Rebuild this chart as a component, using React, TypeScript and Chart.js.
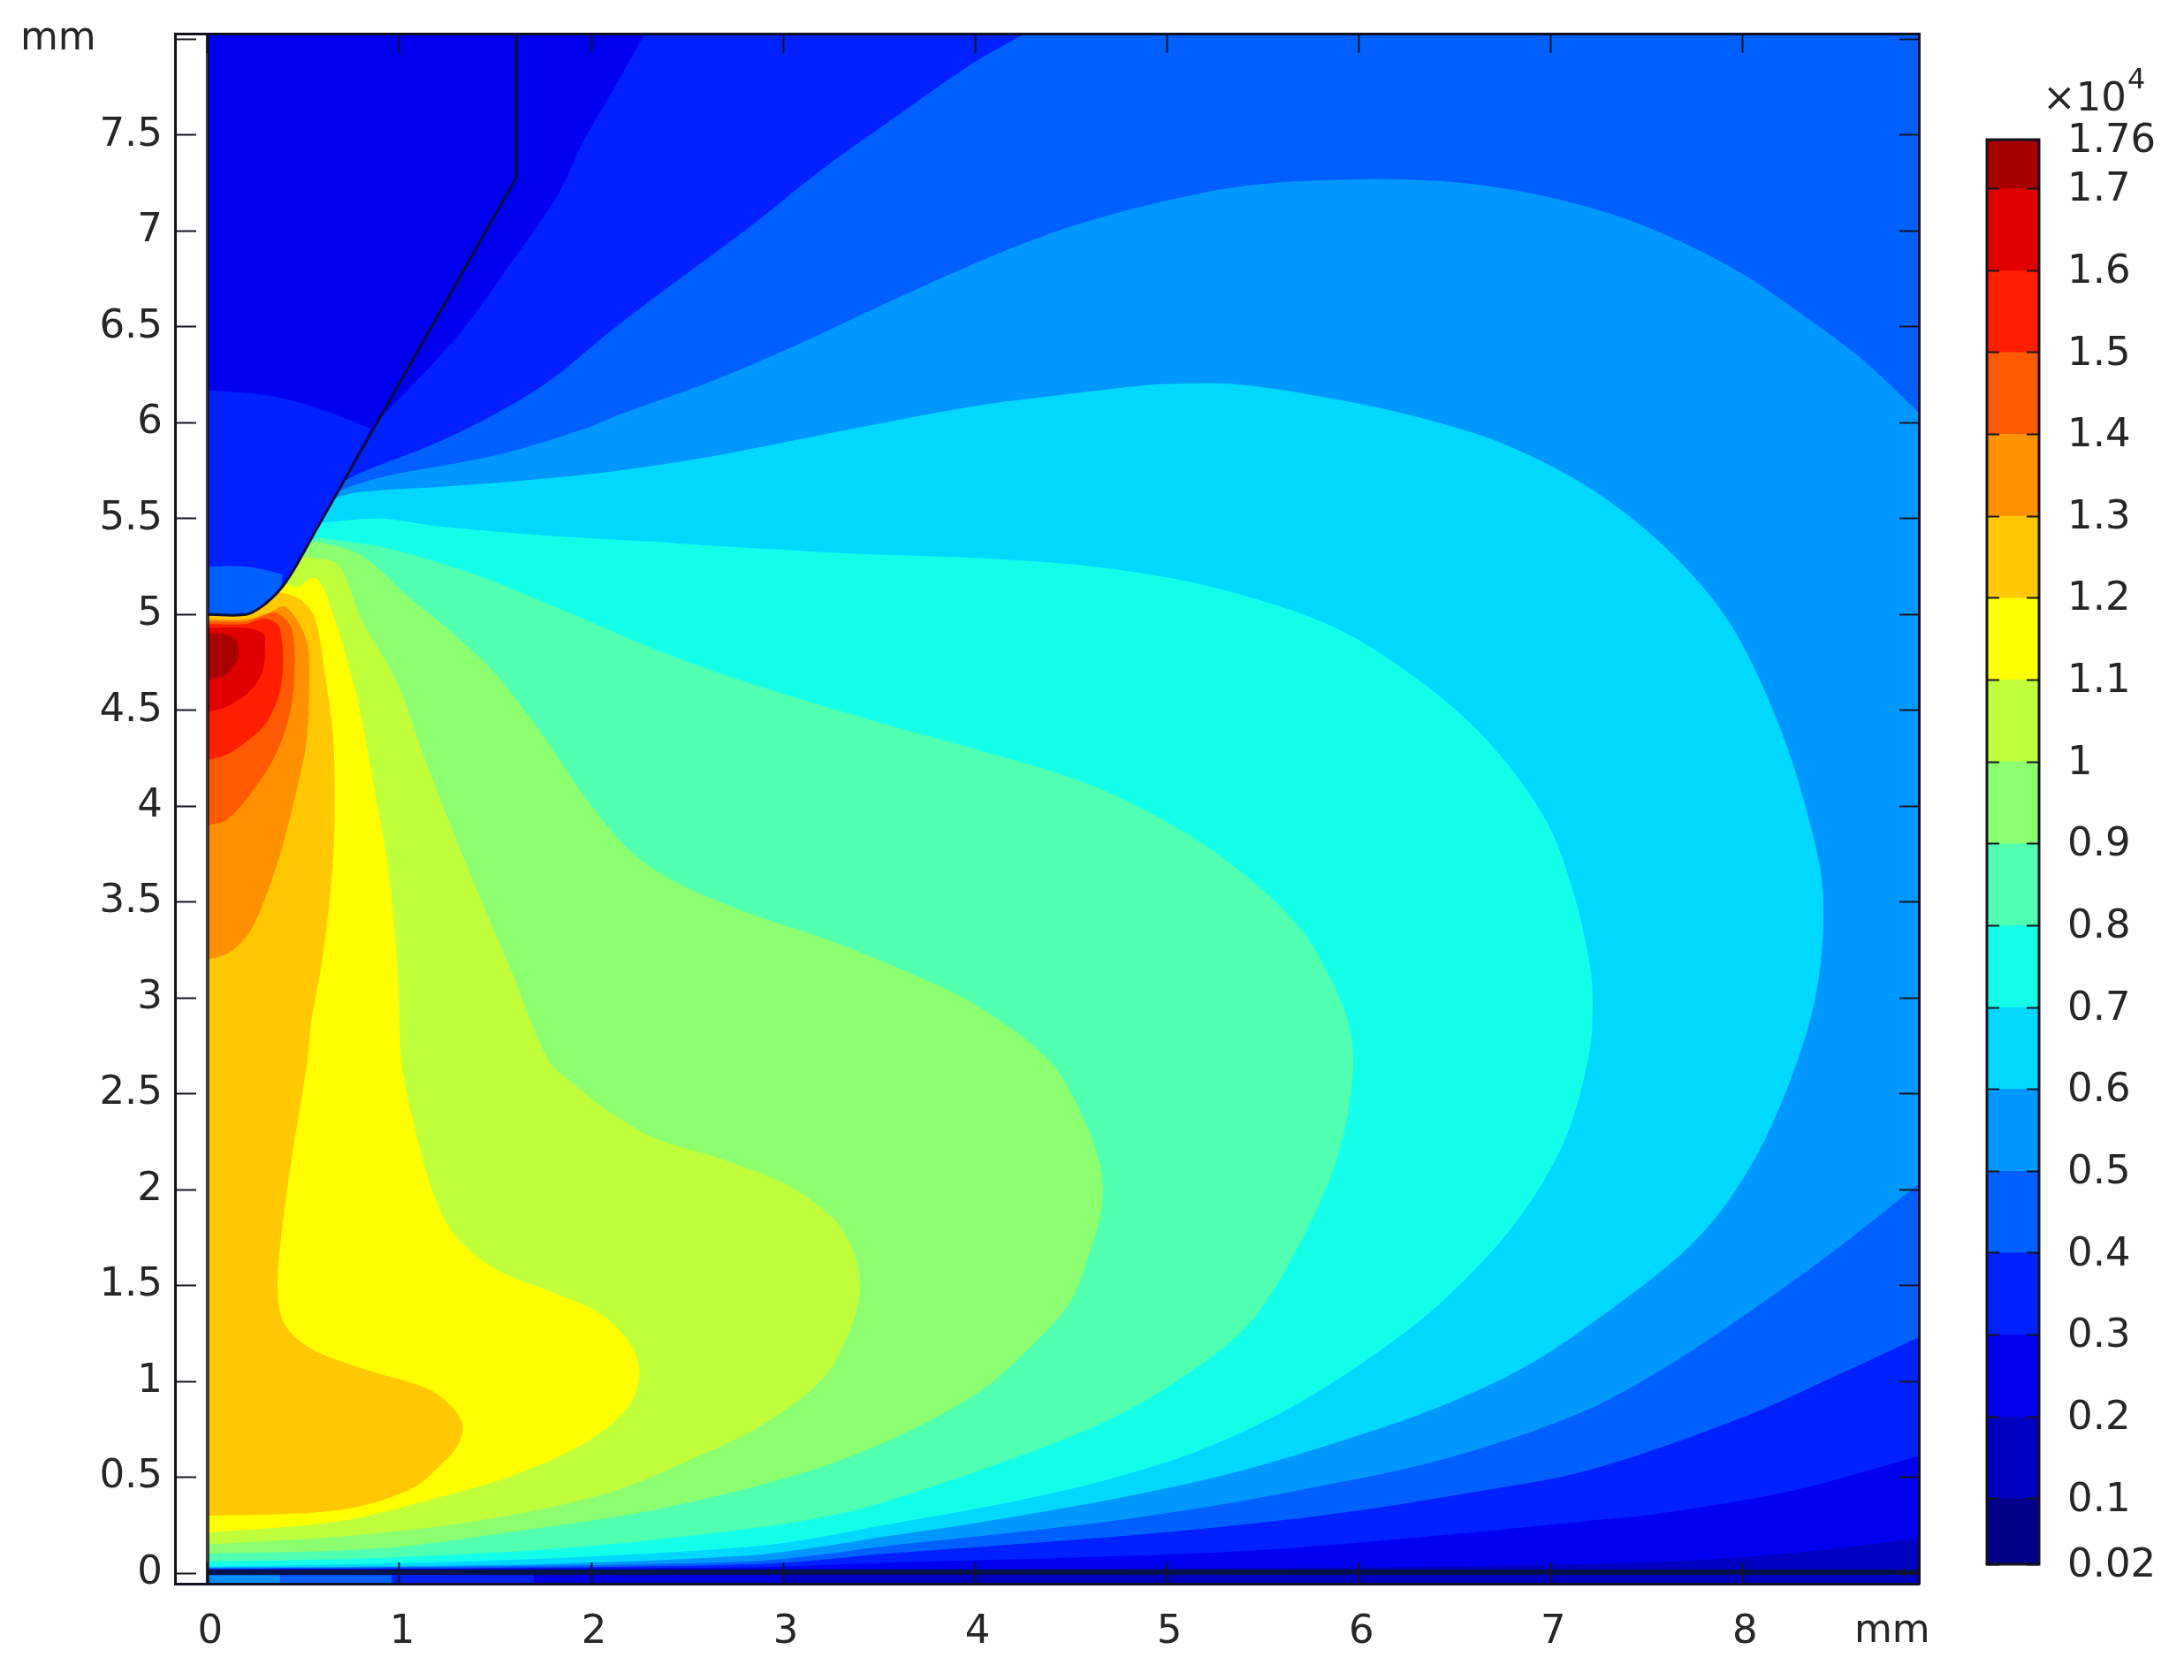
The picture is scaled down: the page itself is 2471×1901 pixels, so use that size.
import React, { useEffect, useRef } from "react";
import { Chart, registerables } from "chart.js";
Chart.register(...registerables);

type P = [number, number];

const xTicks = [0, 1, 2, 3, 4, 5, 6, 7, 8];
const yTicks = [0, 0.5, 1, 1.5, 2, 2.5, 3, 3.5, 4, 4.5, 5, 5.5, 6, 6.5, 7, 7.5, 8];
const yLabels = ["0", "0.5", "1", "1.5", "2", "2.5", "3", "3.5", "4", "4.5", "5", "5.5", "6", "6.5", "7", "7.5", ""];
const barEdges = [0.02, 0.1, 0.2, 0.3, 0.4, 0.5, 0.6, 0.7, 0.8, 0.9, 1, 1.1, 1.2, 1.3, 1.4, 1.5, 1.6, 1.7, 1.76];
const barColors = ["#000088", "#0000c0", "#0000f0", "#0020ff", "#0060ff", "#0098ff", "#00d8ff", "#14ffea", "#50ffb0", "#8cff70", "#c0ff3c", "#ffff00", "#ffc800", "#ff9000", "#ff5a00", "#ff1e00", "#e00000", "#a80000"];

const X0 = -0.17, X1 = 8.92, Y0 = -0.055, Y1 = 8.03;

const level02: P[] = [[0,.02],[0,.02],[3,.022],[5,.025],[6.5,.035],[7.62,.06],[8.26,.105],[8.92,.18],[8.92,.18],[8.92,8.03],[8.92,8.03],[0,8.03],[0,8.03]];
const level03: P[] = [[.87,5.99],[1.31,6.46],[1.6,6.86],[1.82,7.18],[1.96,7.47],[2.11,7.73],[2.28,8.03],[2.28,8.03],[8.92,8.03],[8.92,8.03],[8.92,.61],[8.92,.61],[8.26,.43],[7.56,.31],[7.21,.275],[6.35,.19],[5.41,.115],[4.47,.08],[3.525,.055],[3.15,.04],[2.8,.03],[1.86,.025],[0,.02],[0,.02],[0,5.3],[0,5.3]];
const level04: P[] = [[.72,5.7],[.8,5.74],[1.27,5.93],[1.74,6.19],[2.14,6.51],[2.5,6.78],[2.85,7.04],[3.2,7.32],[3.55,7.57],[3.98,7.87],[4.26,8.03],[4.26,8.03],[8.92,8.03],[8.92,8.03],[8.92,1.23],[8.92,1.23],[8.49,1.03],[8.02,.82],[7.21,.54],[6.58,.42],[5.88,.31],[5.17,.23],[4.47,.17],[3.525,.1],[3.15,.065],[2.8,.045],[1.86,.03],[0,.022],[0,.022],[0,5.3],[0,5.3]];
const level05: P[] = [[.72,5.66],[.92,5.72],[1.5,5.83],[1.97,5.97],[2.14,6.04],[2.61,6.21],[3.08,6.41],[3.55,6.63],[4.02,6.84],[4.49,7.02],[4.96,7.15],[5.44,7.24],[6.03,7.27],[6.55,7.25],[7.02,7.17],[7.48,7.03],[7.96,6.8],[8.43,6.48],[8.66,6.3],[8.92,6.05],[8.92,6.05],[8.92,2.03],[8.92,2.03],[8.45,1.66],[7.93,1.29],[7.56,1.05],[7.21,.86],[6.82,.71],[6.35,.57],[5.88,.47],[5.41,.38],[4.7,.27],[4,.19],[3.525,.14],[3.15,.09],[2.8,.06],[1.86,.04],[0,.025],[0,.025],[0,5.3],[0,5.3]];
const level06: P[] = [[.7,5.62],[.8,5.64],[1.27,5.67],[1.97,5.73],[2.6,5.82],[3.32,5.96],[4.02,6.09],[4.49,6.15],[4.96,6.2],[5.37,6.2],[5.84,6.13],[6.31,6.03],[6.78,5.88],[7.25,5.63],[7.65,5.3],[7.95,4.93],[8.2,4.4],[8.35,3.92],[8.42,3.55],[8.39,3.05],[8.25,2.57],[8.03,2.1],[7.74,1.72],[7.21,1.3],[6.82,1.05],[6.35,.84],[5.88,.68],[5.41,.54],[4.94,.43],[4.47,.34],[3.995,.26],[3.525,.19],[3.15,.13],[2.8,.09],[1.86,.05],[.92,.035],[0,.03],[0,.03],[0,5.3],[0,5.3]];
const level07: P[] = [[.6,5.48],[.9,5.5],[1.2,5.46],[1.8,5.41],[2.33,5.38],[2.61,5.36],[3.32,5.32],[4.11,5.29],[4.7,5.24],[5.29,5.13],[5.88,4.93],[6.35,4.63],[6.7,4.31],[6.98,3.92],[7.12,3.55],[7.2,3.2],[7.22,3],[7.2,2.7],[7.07,2.25],[6.82,1.83],[6.46,1.44],[6.11,1.16],[5.64,.86],[5.17,.64],[4.7,.49],[4.23,.38],[3.525,.25],[3.15,.18],[2.8,.135],[1.86,.08],[.92,.05],[0,.035],[0,.035],[0,5.3],[0,5.3]];
const level08: P[] = [[.58,5.4],[.92,5.35],[1.39,5.21],[1.86,5.02],[2.33,4.82],[2.8,4.65],[3.525,4.43],[3.995,4.3],[4.58,4.12],[5.05,3.89],[5.41,3.64],[5.69,3.37],[5.86,3.09],[5.95,2.85],[5.97,2.6],[5.88,2.14],[5.64,1.62],[5.41,1.28],[5.05,1],[4.7,.8],[4.23,.61],[3.525,.37],[3.15,.28],[2.56,.2],[1.86,.13],[.92,.08],[0,.06],[0,.06],[0,5.3],[0,5.3]];
const level09: P[] = [[.58,5.38],[.8,5.31],[1.04,5.1],[1.27,4.91],[1.51,4.68],[1.74,4.38],[1.98,4.03],[2.21,3.76],[2.45,3.6],[2.8,3.45],[3.27,3.29],[3.66,3.13],[3.995,2.97],[4.39,2.67],[4.57,2.36],[4.66,2.09],[4.66,1.9],[4.6,1.68],[4.5,1.42],[4.28,1.17],[4,.93],[3.525,.68],[3.03,.5],[2.33,.33],[1.62,.22],[.92,.13],[0,.1],[0,.1],[0,5.3],[0,5.3]];
const level10: P[] = [[.52,5.3],[.68,5.26],[.8,4.98],[.99,4.64],[1.15,4.2],[1.36,3.67],[1.58,3.15],[1.78,2.67],[1.91,2.55],[2.09,2.41],[2.33,2.27],[2.68,2.16],[3.03,2.02],[3.27,1.84],[3.37,1.67],[3.4,1.49],[3.36,1.3],[3.22,1.03],[2.92,.79],[2.56,.61],[2.09,.42],[1.39,.27],[.68,.19],[0,.15],[0,.15],[0,5.3],[0,5.3]];
const level11: P[] = [[.47,5.14],[.565,5.19],[.66,4.98],[.78,4.56],[.88,4.03],[.94,3.68],[.99,3.15],[1.01,2.67],[1.08,2.32],[1.18,1.97],[1.29,1.76],[1.51,1.58],[1.81,1.46],[2.05,1.35],[2.2,1.2],[2.25,1.05],[2.2,.88],[2,.7],[1.62,.52],[1.15,.38],[.68,.27],[0,.21],[0,.21],[0,5.3],[0,5.3]];
const level12: P[] = [[.36,5.12],[.44,5.1],[.495,5.07],[.56,4.98],[.61,4.7],[.655,4.35],[.66,3.85],[.635,3.5],[.59,3.15],[.54,2.88],[.52,2.67],[.435,2.14],[.377,1.7],[.365,1.47],[.4,1.3],[.54,1.17],[.8,1.07],[1.15,.96],[1.27,.87],[1.33,.77],[1.3,.66],[1.2,.55],[1.08,.45],[.8,.35],[.45,.31],[0,.3],[0,.3],[0,5.3],[0,5.3]];
const level13: P[] = [[0,3.2],[0,3.2],[.1,3.23],[.21,3.33],[.3,3.52],[.39,3.79],[.468,4.1],[.514,4.33],[.53,4.64],[.514,4.87],[.407,5.04],[.32,5.01],[.2,4.975],[0,4.975],[0,4.975]];
const level14: P[] = [[0,3.9],[0,3.9],[.1,3.93],[.22,4.06],[.345,4.25],[.42,4.45],[.45,4.64],[.44,4.92],[.36,5.01],[.28,4.99],[.2,4.965],[0,4.965],[0,4.965]];
const level15: P[] = [[0,4.24],[0,4.24],[.1,4.27],[.22,4.35],[.315,4.45],[.385,4.64],[.376,4.93],[.3,4.98],[.2,4.95],[0,4.95],[0,4.95]];
const level16: P[] = [[0,4.49],[0,4.49],[.1,4.52],[.21,4.59],[.285,4.7],[.3,4.85],[.29,4.9],[.2,4.93],[0,4.93],[0,4.93]];
const level17: P[] = [[0,4.66],[0,4.66],[.1,4.69],[.16,4.78],[.146,4.87],[.08,4.9],[0,4.9],[0,4.9]];

const toolOutline: P[] = [[0,5],[0,5],[.2,5],[.28,5.04],[.377,5.13],[.447,5.23],[.565,5.44],[.565,5.44],[1.61,7.28],[1.61,7.28],[1.61,8.03]];
const toolBody: P[] = [...toolOutline, [1.61,8.03],[0,8.03],[0,8.03]];
const toolLevel03: P[] = [[0,6.17],[0,6.17],[.327,6.14],[.56,6.08],[.85,5.97],[.85,5.97],[.565,5.44],[.565,5.44],[.447,5.23],[.377,5.13],[.28,5.04],[.2,5],[0,5],[0,5]];
const toolLevel04: P[] = [[0,5.25],[0,5.25],[.2,5.25],[.39,5.21],[.39,5.21],[.377,5.13],[.28,5.04],[.2,5],[0,5],[0,5]];

const stripEdges = [0, 0.38, 0.96, 1.7, 3.0, 8.92];
const stripColors = ["#0090ff", "#0060ff", "#0020f0", "#0000e0", "#0000c0"];
const stripTop = -0.01;

const FONT = "'DejaVu Sans'";
const TEXT = "#262626";
const SIZE = 45;

const rect = (x0: number, x1: number, y0: number, y1: number): P[] => [[x0,y0],[x1,y0],[x1,y1],[x0,y1]];

function shape(pts: P[], color: string, tension = 0.33) {
  return { data: pts.map(([x, y]) => ({ x, y })), showLine: true, fill: "shape", backgroundColor: color, borderColor: color, borderWidth: 0, pointRadius: 0, tension };
}
function stroke(pts: P[], color: string, width: number, tension = 0) {
  return { data: pts.map(([x, y]) => ({ x, y })), showLine: true, fill: false, backgroundColor: color, borderColor: color, borderWidth: width, pointRadius: 0, tension };
}

export default function App() {
  const mainRef = useRef<HTMLCanvasElement>(null);
  const barRef = useRef<HTMLCanvasElement>(null);

  useEffect(() => {
    const layers: any[] = [
      shape(rect(0, X1, Y0, Y1), barColors[1], 0),
      shape(level02, barColors[2]),
      shape(level03, barColors[3]),
      shape(level04, barColors[4]),
      shape(level05, barColors[5]),
      shape(level06, barColors[6]),
      shape(level07, barColors[7]),
      shape(level08, barColors[8]),
      shape(level09, barColors[9]),
      shape(level10, barColors[10]),
      shape(level11, barColors[11]),
      shape(level12, barColors[12]),
      shape(level13, barColors[13]),
      shape(level14, barColors[14]),
      shape(level15, barColors[15]),
      shape(level16, barColors[16]),
      shape(level17, barColors[17]),
      shape(toolBody, barColors[2]),
      shape(toolLevel03, barColors[3]),
      shape(toolLevel04, barColors[4]),
      ...stripColors.map((c, i) => shape(rect(stripEdges[i], stripEdges[i + 1], Y0, stripTop), c, 0)),
      shape(rect(X0, 0, Y0, Y1), "#ffffff", 0),
      stroke([[0, 0.005], [X1, 0.005]], "#03124a", 6),
      stroke(toolOutline, "#0a0f38", 3, 0.33),
      stroke([[0, Y0], [0, Y1]], "rgba(20,15,20,0.8)", 4),
    ];
    layers.forEach((d, i) => (d.order = layers.length - i));

    const tickGrid = (len: number) => ({ drawOnChartArea: false, drawTicks: true, tickLength: len, tickWidth: 2, tickColor: "#14141e", z: 1 });
    const border = { display: true, color: "#10121e", width: 3, z: 1 };
    const setX = (s: any) => { s.ticks = xTicks.map((value) => ({ value })); };
    const setY = (s: any) => { s.ticks = yTicks.map((value) => ({ value })); };
    const noPad = (s: any) => { s.paddingTop = 0; s.paddingBottom = 0; s.paddingLeft = 0; s.paddingRight = 0; };

    const mm = {
      id: "mmLabels",
      afterDraw(chart: any) {
        const { ctx } = chart;
        ctx.save();
        ctx.fillStyle = TEXT;
        ctx.font = `44px ${FONT}`;
        ctx.textBaseline = "alphabetic";
        ctx.textAlign = "left";
        ctx.fillText("mm", 23, 56);
        ctx.fillText("mm", 2098, 1858);
        ctx.restore();
      },
    };

    const main = new Chart(mainRef.current!, {
      type: "scatter",
      data: { datasets: layers },
      plugins: [mm],
      options: {
        animation: false, responsive: false, devicePixelRatio: 1, events: [],
        layout: { padding: 0 },
        plugins: { legend: { display: false }, tooltip: { enabled: false } },
        scales: {
          x: {
            type: "linear", position: "bottom", min: X0, max: X1,
            afterBuildTicks: setX, afterFit: (s: any) => { s.height = 109; noPad(s); },
            grid: tickGrid(-24), border,
            ticks: { z: 1, padding: 52, labelOffset: 3, color: TEXT, autoSkip: false, maxRotation: 0, font: { family: "DejaVu Sans", size: SIZE }, callback: (v: any) => String(v) },
          },
          y: {
            type: "linear", position: "left", min: Y0, max: Y1,
            afterBuildTicks: setY, afterFit: (s: any) => { s.width = 198; noPad(s); },
            grid: tickGrid(-24), border,
            ticks: { z: 1, padding: 38, color: TEXT, autoSkip: false, font: { family: "DejaVu Sans", size: SIZE }, callback: (_: any, i: number) => yLabels[i] },
          },
          x2: {
            type: "linear", position: "top", min: X0, max: X1,
            afterBuildTicks: setX, afterFit: (s: any) => { s.height = 38; noPad(s); },
            grid: tickGrid(-22), border, ticks: { display: false },
          },
          y2: {
            type: "linear", position: "right", min: Y0, max: Y1,
            afterBuildTicks: setY, afterFit: (s: any) => { s.width = 300; noPad(s); },
            grid: tickGrid(-22), border, ticks: { display: false },
          },
        },
      } as any,
    });

    const scaleLabel = {
      id: "barFrame",
      afterDatasetsDraw(chart: any) {
        const { ctx, chartArea: a } = chart;
        ctx.save();
        ctx.strokeStyle = "#14141e";
        ctx.lineWidth = 3;
        ctx.strokeRect(a.left, a.top, a.right - a.left, a.bottom - a.top);
        ctx.restore();
      },
      afterDraw(chart: any) {
        const { ctx } = chart;
        ctx.save();
        ctx.fillStyle = TEXT;
        ctx.textBaseline = "alphabetic";
        ctx.textAlign = "left";
        ctx.font = `${SIZE}px ${FONT}`;
        ctx.fillText("×10", 121, 125);
        ctx.font = `32px ${FONT}`;
        ctx.fillText("4", 217, 100);
        ctx.restore();
      },
    };

    const barTicks = (s: any) => { s.ticks = barEdges.map((value) => ({ value })); };
    const bar = new Chart(barRef.current!, {
      type: "bar",
      data: {
        labels: [""],
        datasets: barColors.map((c, i) => ({ data: [[barEdges[i], barEdges[i + 1]]], backgroundColor: c, barPercentage: 1, categoryPercentage: 1, borderWidth: 0 })),
      },
      plugins: [scaleLabel],
      options: {
        animation: false, responsive: false, devicePixelRatio: 1, events: [],
        layout: { padding: { top: 158, bottom: 131 } },
        plugins: { legend: { display: false }, tooltip: { enabled: false } },
        scales: {
          x: { display: false, stacked: true },
          y: {
            position: "right", min: 0.02, max: 1.76,
            afterBuildTicks: barTicks, afterFit: (s: any) => { s.width = 164; noPad(s); },
            grid: { drawOnChartArea: false, tickLength: -14, tickWidth: 2, tickColor: "#14141e", z: 1 },
            border: { display: false },
            ticks: { z: 1, padding: 46, labelOffset: 2, color: TEXT, autoSkip: false, font: { family: "DejaVu Sans", size: SIZE }, callback: (v: any) => String(v) },
          },
          y2: {
            position: "left", min: 0.02, max: 1.76,
            afterBuildTicks: barTicks, afterFit: (s: any) => { s.width = 58; noPad(s); },
            grid: { drawOnChartArea: false, tickLength: -14, tickWidth: 2, tickColor: "#14141e", z: 1 },
            border: { display: false },
            ticks: { display: false },
          },
        },
      } as any,
    });

    return () => { main.destroy(); bar.destroy(); };
  }, []);

  return (
    <div style={{ position: "absolute", left: 0, top: 0, width: 2471, height: 1901, background: "#fff", overflow: "hidden" }}>
      <canvas ref={mainRef} width={2471} height={1901} style={{ position: "absolute", left: 0, top: 0 }} />
      <canvas ref={barRef} width={281} height={1901} style={{ position: "absolute", left: 2190, top: 0 }} />
    </div>
  );
}
